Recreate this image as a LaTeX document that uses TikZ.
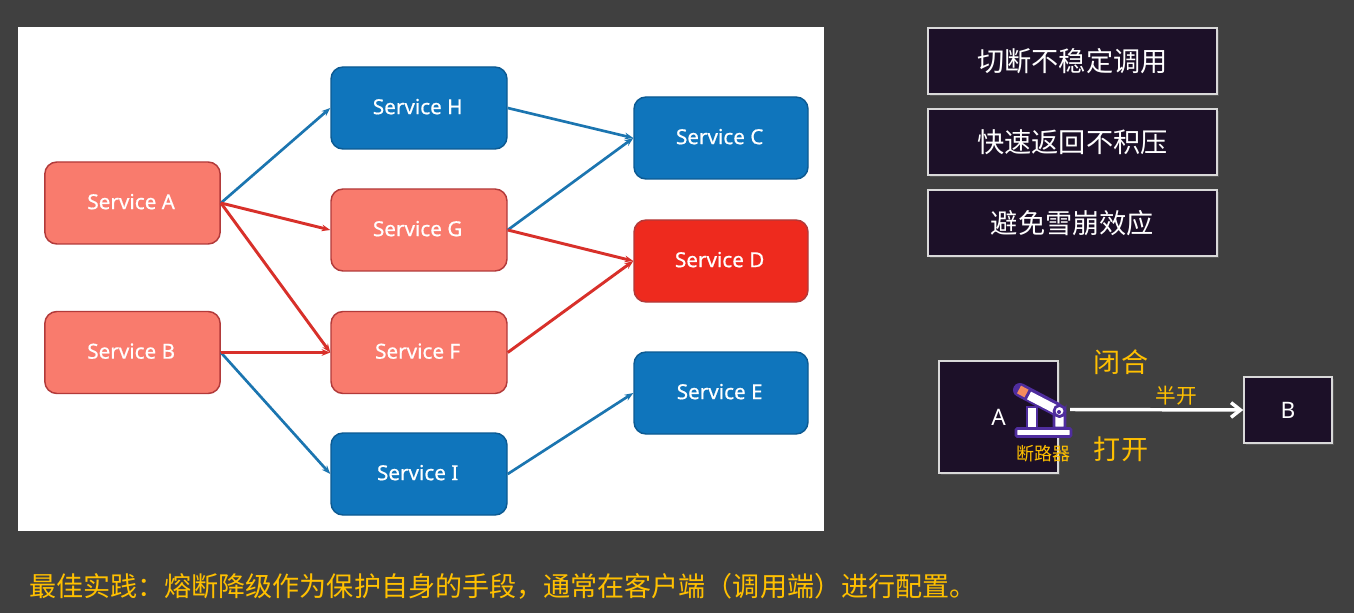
\documentclass[tikz,border=0pt]{standalone}
\usepackage{fontspec}
\usepackage{tikz}
\usepackage{xcolor}
\usetikzlibrary{arrows.meta,shadows}
\setmainfont{Noto Sans}
\newfontfamily\cjk{Noto Sans CJK SC}
\newfontfamily\svcfont[FakeBold=0.6]{Noto Sans}
\definecolor{slidebg}{HTML}{404040}
\definecolor{svcblue}{HTML}{0F75BC}
\definecolor{svcblueline}{HTML}{0C5A92}
\definecolor{svcred}{HTML}{F97B6D}
\definecolor{svcredline}{HTML}{B23A3A}
\definecolor{svcdown}{HTML}{EE2A1E}
\definecolor{callblue}{HTML}{1B75B0}
\definecolor{callred}{HTML}{D8302A}
\definecolor{boxdark}{HTML}{1C1028}
\definecolor{amber}{HTML}{FFC000}
\definecolor{iconpurple}{HTML}{4F2D9E}
\definecolor{iconorange}{HTML}{F58B5E}
\tikzset{
  svc/.style={draw,line width=1.1pt,rounded corners=9pt,minimum height=61.5pt,inner sep=0pt,
    text=white,text depth=2.2pt,font=\svcfont\fontsize{15.5}{18}\selectfont},
  svcleft/.style={svc,minimum width=131.5pt},
  svcmid/.style={svc,minimum width=132pt},
  svcright/.style={svc,minimum width=130.5pt},
  okbox/.style={fill=svcblue,draw=svcblueline},
  badbox/.style={fill=svcred,draw=svcredline},
  okcall/.style={-{Stealth[length=6.5pt,width=5pt]},callblue,line width=2pt},
  badcall/.style={-{Stealth[length=6.5pt,width=5pt]},callred,line width=2.2pt},
  darkbox/.style={draw=white!85!black,line width=1.2pt,fill=boxdark,text=white,inner sep=0pt,
    drop shadow={shadow xshift=1.5pt,shadow yshift=-1.5pt,opacity=0.35}},
  tipbox/.style={darkbox,minimum width=217pt,minimum height=49.5pt,font=\cjk\fontsize{20.4}{24}\selectfont},
  amberbig/.style={text=amber,inner sep=0pt,font=\cjk\fontsize{20.3}{24}\selectfont},
  ambersmall/.style={text=amber,inner sep=0pt,font=\cjk\fontsize{15.5}{18}\selectfont},
}
\begin{document}
\begin{tikzpicture}[x=0.75pt,y=-0.75pt]
  \useasboundingbox[fill=slidebg] (0,0) rectangle (1354,613);
  \fill[white] (18,27) rectangle (824,531);
  % services
  \node[svcleft,badbox] (svca) at (132.5,203) {\hspace{-2pt}Service A};
  \node[svcleft,badbox] (svcb) at (132.5,352.5) {\hspace{-2pt}Service B};
  \node[svcmid,okbox] (svch) at (419,108) {\hspace{-2pt}Service H};
  \node[svcmid,badbox] (svcg) at (419,230) {\hspace{-2pt}Service G};
  \node[svcmid,badbox] (svcf) at (419,352.5) {\hspace{-2pt}Service F};
  \node[svcmid,okbox] (svci) at (419,474) {\hspace{-2pt}Service I};
  \node[svcright,okbox] (svcc) at (721,138) {\hspace{-2pt}Service C};
  \node[svcright,fill=svcdown,draw=svcredline] (svcd) at (721,261) {\hspace{-2pt}Service D};
  \node[svcright,okbox] (svce) at (721,393) {\hspace{-2pt}Service E};
  % calls
  \draw[okcall] (svca.east) -- (svch.west);
  \draw[okcall] (svcb.east) -- (svci.west);
  \draw[okcall] (svch.east) -- (svcc.west);
  \draw[okcall] (svcg.east) -- (svcc.west);
  \draw[okcall] (svci.east) -- (svce.west);
  \draw[badcall] (svca.east) -- (svcg.west);
  \draw[badcall] (svca.east) -- (svcf.west);
  \draw[badcall] (svcb.east) -- (svcf.west);
  \draw[badcall] (svcg.east) -- (svcd.west);
  \draw[badcall] (svcf.east) -- (svcd.west);
  % tips
  \node[tipbox] (tipcut) at (1072.5,61) {切断不稳定调用};
  \node[tipbox] (tipfast) at (1072.5,142) {快速返回不积压};
  \node[tipbox] (tipaval) at (1072.5,223) {避免雪崩效应};
  % breaker
  \node[darkbox,minimum width=89pt,minimum height=84pt,font=\fontsize{17}{20}\selectfont] (nodea) at (998.5,417) {A};
  \node[darkbox,minimum width=66pt,minimum height=49.5pt,font=\fontsize{17}{20}\selectfont] (nodeb) at (1288,410) {B};
  \coordinate (brk) at (1070,409.5);
  \draw[-{Straight Barb[length=7pt,width=11pt]},white,line width=2.6pt] (brk) -- (nodeb.west);
  \node[amberbig] (closed) at (1121,362) {闭合};
  \node[amberbig] (opened) at (1121,449) {打开};
  \node[ambersmall] (half) at (1176,396) {半开};
  \node[ambersmall,font=\cjk\fontsize{13.5}{16}\selectfont] (brklabel) at (1043.5,454) {断路器};
  % breaker icon
  \draw[iconpurple,line width=2pt,fill=white] (1027,428) rectangle (1037,407);
  \draw[iconpurple,line width=2pt,fill=white] (1054,428) -- (1054,411) arc (180:0:5.5) -- (1065,428) -- cycle;
  \draw[iconpurple,line width=10.5pt,line cap=round] (1020,390) -- (1056,409);
  \draw[white,line width=6.5pt] (1029,395.5) -- (1055,409);
  \draw[iconorange,line width=6.5pt] (1019,389.5) -- (1026.5,393.5);
  \draw[iconpurple,line width=2pt,fill=white] (1059.5,411) circle (5.5);
  \fill[iconpurple] (1059,412) circle (2);
  \draw[iconpurple,line width=2pt,fill=white,rounded corners=1pt] (1016,428.5) rectangle (1071,436.5);
  % best practice
  \node[amberbig,anchor=west] (practice) at (29,586) {最佳实践：熔断降级作为保护自身的手段，通常在客户端（调用端）进行配置。};
\end{tikzpicture}
\end{document}
